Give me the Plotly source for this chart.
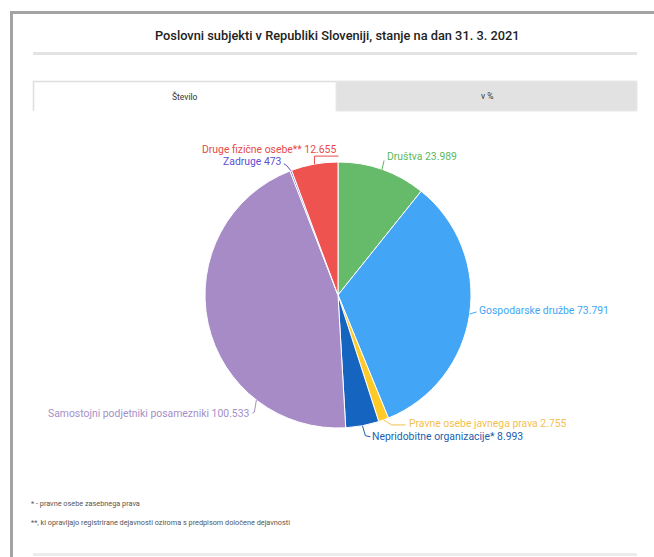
import math
import plotly.graph_objects as go

# ---------------- data ----------------
labels = ["Društva", "Gospodarske družbe", "Pravne osebe javnega prava",
          "Nepridobitne organizacije*", "Samostojni podjetniki posamezniki",
          "Zadruge", "Druge fizične osebe**"]
values = [23989, 73791, 2755, 8993, 100533, 473, 12655]

slice_colors = ["#66bb6a", "#42a5f5", "#ffca28", "#1565c0", "#a68bc7", "#7e6fd6", "#ef5350"]
label_colors = ["#5cb85c", "#42a5f5", "#f5c04f", "#1b5fad", "#a48fc8", "#5e4fd0", "#e84a4a"]

title_text = "Poslovni subjekti v Republiki Sloveniji, stanje na dan 31. 3. 2021"
tab_labels = ["Število", "v %"]
footnotes = ["* - pravne osebe zasebnega prava",
             "**, ki opravljajo registrirane dejavnosti oziroma s predpisom določene dejavnosti"]

# ---------------- layout constants (pixels) ----------------
W, H = 654, 557
CX, CY, R = 338, 295, 133
FONT = "Roboto"

# label placement: anchor fraction inside slice, connector offsets, text offset, xanchor
label_style = [
    dict(frac=0.5, path=[(0, 0), (2, -9)], text=(3, -13), xa="left"),
    dict(frac=0.5, path=[(0, 0), (7, -2)], text=(7, -3), xa="left"),
    dict(frac=0.5, path=[(0, 0), (8, 5), (22, 5)], text=(23, 4), xa="left"),
    dict(frac=0.5, path=[(0, 0), (3, 10), (8, 11)], text=(8, 11), xa="left"),
    dict(frac=0.254, path=[(0, 0), (-2, 12), (-4, 13)], text=(-4, 13), xa="right"),
    dict(frac=0.5, path=[(0, 0), (-4, -5), (-7, -7)], text=(-7, -9), xa="right"),
    dict(frac=0.5, path=[(0, 0), (0, -8), (24, -8)], text=(24, -15), xa="right"),
]


def px(x):
    return x / W


def py(y):
    return 1 - y / H


fig = go.Figure()
fig.add_trace(go.Pie(
    labels=labels, values=values, sort=False, direction="clockwise", rotation=0,
    marker=dict(colors=slice_colors, line=dict(color="white", width=1)),
    textinfo="none", hoverinfo="label+value", showlegend=False,
    domain=dict(x=[px(CX - R), px(CX + R)], y=[py(CY + R), py(CY - R)]),
))

shapes = []
annotations = []

total = sum(values)
cum = 0
for i, (lab, v) in enumerate(zip(labels, values)):
    st = label_style[i]
    ang = (cum + v * st["frac"]) / total * 2 * math.pi
    cum += v
    ex = CX + R * math.sin(ang)
    ey = CY - R * math.cos(ang)
    pts = [(ex + dx, ey + dy) for dx, dy in st["path"]]
    path = "M " + " L ".join(f"{px(x):.5f},{py(y):.5f}" for x, y in pts)
    shapes.append(dict(type="path", path=path, xref="paper", yref="paper",
                       line=dict(color=label_colors[i], width=1)))
    tx, ty = ex + st["text"][0], ey + st["text"][1]
    vtxt = f"{v:,}".replace(",", ".")
    annotations.append(dict(
        x=px(tx), y=py(ty), xref="paper", yref="paper", showarrow=False,
        xanchor=st["xa"], yanchor="middle", text=f"{lab} {vtxt}",
        font=dict(family=FONT, size=10.4, color=label_colors[i]),
    ))

# frame border (left + top)
shapes.append(dict(type="rect", xref="paper", yref="paper", x0=px(10), x1=px(13),
                   y0=py(557), y1=py(11), fillcolor="#a3a3a3", line_width=0))
shapes.append(dict(type="rect", xref="paper", yref="paper", x0=px(10), x1=px(654),
                   y0=py(14), y1=py(11), fillcolor="#a3a3a3", line_width=0))
# title underline
shapes.append(dict(type="rect", xref="paper", yref="paper", x0=px(33), x1=px(637),
                   y0=py(55), y1=py(52), fillcolor="#e3e3e3", line_width=0))
# tabs
shapes.append(dict(type="rect", xref="paper", yref="paper", x0=px(336), x1=px(637),
                   y0=py(111), y1=py(81), fillcolor="#e2e2e2", line=dict(color="#e8e8e8", width=1)))
shapes.append(dict(type="path", xref="paper", yref="paper",
                   path=f"M {px(33.5)},{py(111)} L {px(33.5)},{py(81.5)} L {px(336)},{py(81.5)}",
                   line=dict(color="#dedede", width=1.5)))
# bottom line
shapes.append(dict(type="rect", xref="paper", yref="paper", x0=px(33), x1=px(637),
                   y0=py(556), y1=py(553), fillcolor="#ececec", line_width=0))

annotations.append(dict(x=px(337), y=py(35), xref="paper", yref="paper", showarrow=False,
                        xanchor="center", yanchor="middle", text=title_text,
                        font=dict(family=FONT, size=12.8, color="#222", weight=500)))
annotations.append(dict(x=px(185), y=py(96), xref="paper", yref="paper", showarrow=False,
                        xanchor="center", yanchor="middle", text=tab_labels[0],
                        font=dict(family=FONT, size=8.5, color="#333")))
annotations.append(dict(x=px(487), y=py(96), xref="paper", yref="paper", showarrow=False,
                        xanchor="center", yanchor="middle", text=tab_labels[1],
                        font=dict(family=FONT, size=8.5, color="#333")))
for j, fn in enumerate(footnotes):
    annotations.append(dict(x=px(29), y=py(503 + 19 * j), xref="paper", yref="paper",
                            showarrow=False, xanchor="left", yanchor="middle", text=fn,
                            font=dict(family=FONT, size=7.3, color="#555")))

fig.update_layout(
    width=W, height=H, margin=dict(l=0, r=0, t=0, b=0),
    paper_bgcolor="white", plot_bgcolor="white",
    shapes=shapes, annotations=annotations,
)

fig.write_html("out.html", config={"displayModeBar": False},
               post_script="document.body.style.margin='0';")
